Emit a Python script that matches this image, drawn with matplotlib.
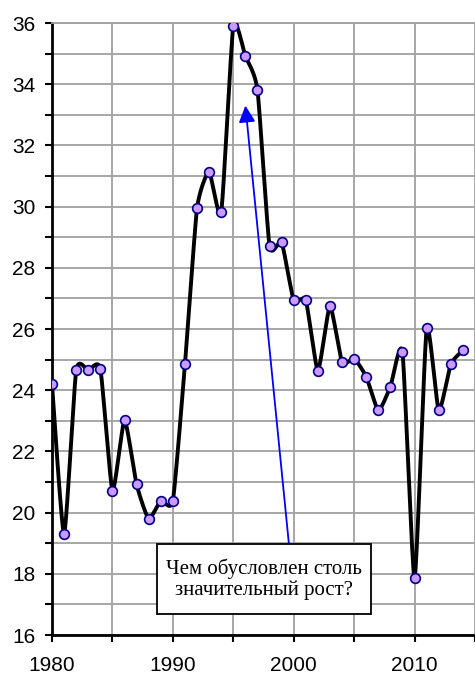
import numpy as np
import matplotlib
matplotlib.use("Agg")
import matplotlib.pyplot as plt
from matplotlib.patches import Rectangle
from matplotlib.ticker import MultipleLocator, FixedLocator

years = list(range(1980, 2015))
values = [24.2, 19.3, 24.65, 24.65, 24.7, 20.72, 23.02, 20.92, 19.8, 20.39,
          20.39, 24.85, 29.94, 31.13, 29.81, 35.9, 34.92, 33.81, 28.71, 28.83,
          26.94, 26.94, 24.64, 26.75, 24.91, 25.03, 24.44, 23.34, 24.12, 25.24,
          17.85, 26.02, 23.34, 24.85, 25.3]

note_text = "Чем обусловлен столь\nзначительный рост?"
note_box = (1988.68, 16.69, 17.68, 2.28)  # x, y, width, height in data units
arrow_tip = (1996.0, 33.3)
arrow_tail = (1999.6, 18.98)


def smooth_curve(x, y, n=20, k=0.55):
    # Catmull-Rom style curve with softened tangents (Excel-like smoothing)
    p = np.column_stack([x, y]).astype(float)
    ext = np.vstack([p[0], p, p[-1]])
    tang = k * (ext[2:] - ext[:-2]) / 2.0
    out = []
    t = np.linspace(0, 1, n, endpoint=False)[:, None]
    h00 = 2 * t ** 3 - 3 * t ** 2 + 1
    h10 = t ** 3 - 2 * t ** 2 + t
    h01 = -2 * t ** 3 + 3 * t ** 2
    h11 = t ** 3 - t ** 2
    for i in range(len(p) - 1):
        seg = h00 * p[i] + h10 * tang[i] + h01 * p[i + 1] + h11 * tang[i + 1]
        out.append(seg)
    out.append(p[-1][None, :])
    out = np.vstack(out)
    return out[:, 0], out[:, 1]


plt.rcParams["font.family"] = ["Liberation Sans", "DejaVu Sans"]

fig = plt.figure(figsize=(4.75, 6.77), dpi=100, facecolor="white")
ax = fig.add_axes([0.1095, 0.062, 0.8905, 0.904])

sx, sy = smooth_curve(years, values)
ax.plot(sx, sy, color="black", lw=2.8, zorder=3, solid_capstyle="round", solid_joinstyle="round")
ax.plot(years, values, "o", ms=7, mfc="#CC99FF", mec="#000080", mew=1.2, zorder=4)

ax.set_xlim(1980, 2015)
ax.set_ylim(16, 36)
ax.xaxis.set_major_locator(FixedLocator([1980, 1990, 2000, 2010]))
ax.xaxis.set_minor_locator(MultipleLocator(5))
ax.yaxis.set_major_locator(MultipleLocator(2))
ax.yaxis.set_minor_locator(MultipleLocator(1))

ax.grid(True, which="both", color="#a0a0a0", lw=1.3, zorder=0)
ax.set_axisbelow(True)

ax.spines["right"].set_visible(False)
ax.spines["top"].set_color("#a0a0a0")
ax.spines["top"].set_linewidth(1.3)
ax.spines["left"].set_linewidth(2.0)
ax.spines["bottom"].set_linewidth(2.0)

ax.tick_params(axis="both", which="both", direction="out", length=5, width=1.5,
               color="black", labelsize=15)
ax.tick_params(axis="x", which="major", pad=10)
ax.tick_params(axis="y", which="major", pad=7)

ax.annotate("", xy=arrow_tip, xytext=arrow_tail,
            arrowprops=dict(arrowstyle="-|>,head_length=1.0,head_width=0.5",
                            color="#0000FF", lw=1.3, shrinkA=0, shrinkB=0),
            zorder=5)
ax.add_patch(Rectangle(note_box[:2], note_box[2], note_box[3], fc="white",
                       ec="black", lw=1.3, zorder=6))
ax.text(note_box[0] + note_box[2] / 2, note_box[1] + note_box[3] / 2, note_text,
        ha="center", va="center", fontfamily="Liberation Serif", fontsize=15,
        linespacing=1.12, zorder=7)

fig.savefig("out.png", dpi=100, facecolor="white")
